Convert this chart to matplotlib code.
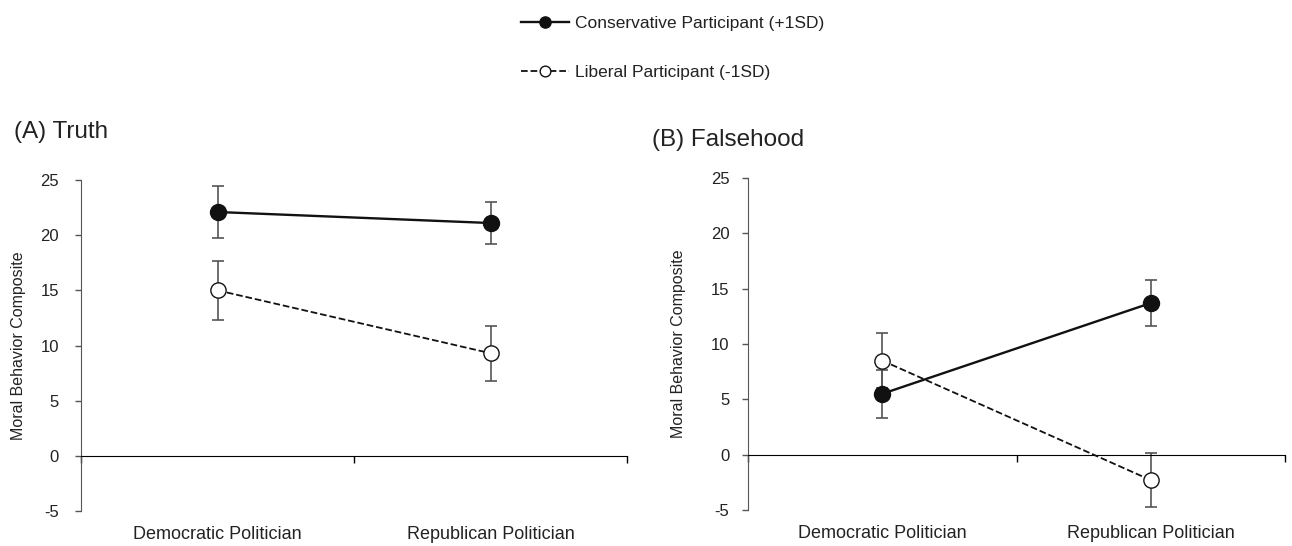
import numpy as np
import matplotlib.pyplot as plt

plt.rcParams['font.family'] = ['Liberation Sans', 'DejaVu Sans']

categories = ['Democratic Politician', 'Republican Politician']
panels = ['(A) Truth', '(B) Falsehood']

# means and error half-widths
truth_cons = [22.1, 21.1]
truth_cons_err = [2.35, 1.9]
truth_lib = [15.0, 9.3]
truth_lib_err = [2.7, 2.5]

false_cons = [5.5, 13.7]
false_cons_err = [2.15, 2.1]
false_lib = [8.5, -2.3]
false_lib_err = [2.5, 2.45]

yticks = [-5, 0, 5, 10, 15, 20, 25]

fig = plt.figure(figsize=(12.92, 5.46), dpi=100)
ax1 = fig.add_axes([81 / 1292, 1 - 511 / 546, 546 / 1292, 331 / 546])
ax2 = fig.add_axes([748 / 1292, 1 - 510 / 546, 537 / 1292, 332 / 546])

xpos = np.array([0.5, 1.5])
data = [(truth_cons, truth_cons_err, truth_lib, truth_lib_err),
        (false_cons, false_cons_err, false_lib, false_lib_err)]
label_x = [-0.101, -0.115]
tick_pad = [12, 9.5]

handles = None
for i, (ax, (cons, cons_err, lib, lib_err)) in enumerate(zip([ax1, ax2], data)):
    ax.errorbar(xpos, lib, yerr=lib_err, fmt='none', ecolor='#555555',
                elinewidth=1.2, capsize=4, capthick=1.2, zorder=1)
    ax.errorbar(xpos, cons, yerr=cons_err, fmt='none', ecolor='#555555',
                elinewidth=1.2, capsize=4, capthick=1.2, zorder=1)
    l_lib, = ax.plot(xpos, lib, ls='--', color='#111111', lw=1.3, marker='o',
                     ms=11, mfc='white', mec='#111111', mew=1.0, zorder=3,
                     label='Liberal Participant (-1SD)')
    l_cons, = ax.plot(xpos, cons, ls='-', color='#111111', lw=1.7, marker='o',
                      ms=11.5, mfc='#111111', mec='#111111', zorder=4,
                      label='Conservative Participant (+1SD)')
    handles = [l_cons, l_lib]

    ax.set_xlim(0, 2)
    ax.set_ylim(-5, 25)
    ax.set_yticks(yticks)
    ax.set_yticklabels([str(t) for t in yticks], fontsize=12, color='#222222')
    ax.set_xticks([0, 1, 2])
    ax.set_xticklabels([])
    ax.tick_params(axis='x', direction='out', length=5, width=1)
    ax.tick_params(axis='y', direction='out', length=4, width=1,
                   color='#555555', pad=tick_pad[i])
    ax.spines['top'].set_visible(False)
    ax.spines['right'].set_visible(False)
    ax.spines['bottom'].set_position(('data', 0))
    ax.spines['left'].set_color('#555555')
    ax.set_ylabel('Moral Behavior Composite', fontsize=11.5, color='#222222')
    ax.yaxis.set_label_coords(label_x[i], 0.5)
    for xp, cat in zip(xpos, categories):
        ax.text(xp, -0.07, cat, transform=ax.get_xaxis_transform(),
                ha='center', va='center', fontsize=13, color='#222222')

fig.text(14 / 1292, 1 - 132 / 546, panels[0], fontsize=17.5, va='center',
         ha='left', color='#222222')
fig.text(652 / 1292, 1 - 140 / 546, panels[1], fontsize=17.5, va='center',
         ha='left', color='#222222')

leg = fig.legend(handles=handles, loc='upper left',
                 bbox_to_anchor=(505 / 1292, 1.0), frameon=False,
                 fontsize=12.5, handlelength=2.8, labelspacing=1.95,
                 handletextpad=0.35, markerscale=0.7)
for t in leg.get_texts():
    t.set_color('#222222')

fig.savefig('out.png', dpi=100)
